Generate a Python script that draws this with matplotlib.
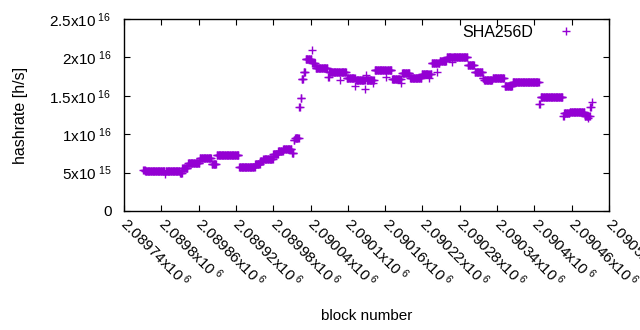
import numpy as np
import matplotlib
matplotlib.use('Agg')
import matplotlib.pyplot as plt

plt.rcParams['font.family'] = ['Liberation Sans', 'DejaVu Sans']
plt.rcParams['mathtext.fontset'] = 'custom'
plt.rcParams['mathtext.rm'] = 'Liberation Sans'
plt.rcParams['mathtext.it'] = 'Liberation Sans'

# hashrate per block, stored as runs: first block of each run and its value (x1e16 h/s)
run_start = [2089771, 2089774, 2089785, 2089806, 2089807, 2089830, 2089834, 2089843,
             2089862, 2089881, 2089889, 2089925, 2089951, 2089959, 2089964, 2089980,
             2089988, 2089996, 2090010, 2090013, 2090015, 2090022, 2090024, 2090026,
             2090029, 2090032, 2090042, 2090043, 2090048, 2090068, 2090070, 2090087,
             2090088, 2090098, 2090112, 2090113, 2090128, 2090129, 2090130, 2090140,
             2090141, 2090143, 2090161, 2090162, 2090171, 2090185, 2090186, 2090187,
             2090200, 2090219, 2090230, 2090231, 2090235, 2090243, 2090244, 2090248,
             2090259, 2090267, 2090268, 2090293, 2090304, 2090317, 2090319, 2090333,
             2090352, 2090365, 2090408, 2090410, 2090446, 2090448, 2090457, 2090481,
             2090486, 2090487, 2090490, 2090492]
run_value = [0.53, 0.527, 0.52, 0.48, 0.525, 0.495, 0.565, 0.62,
             0.69, 0.61, 0.73, 0.569, 0.612, 0.655, 0.673, 0.742,
             0.781, 0.807, 0.755, 0.924, 0.95, 1.35, 1.47, 1.72,
             1.81, 1.98, 2.1, 1.93, 1.86, 1.745, 1.81, 1.70,
             1.81, 1.735, 1.628, 1.70, 1.585, 1.77, 1.70, 1.67,
             1.70, 1.83, 1.745, 1.83, 1.72, 1.67, 1.72, 1.80,
             1.73, 1.78, 1.73, 1.78, 1.93, 1.81, 1.93, 1.957,
             2.0, 1.94, 2.01, 1.90, 1.806, 1.73, 1.70, 1.73,
             1.63, 1.677, 1.39, 1.48, 1.24, 1.28, 1.29, 1.24,
             1.21, 1.24, 1.35, 1.42]
last_block = 2090492

x_ticks = [2089740 + 60 * k for k in range(14)]
x_labels = ['2.08974', '2.0898', '2.08986', '2.08992', '2.08998', '2.09004', '2.0901',
            '2.09016', '2.09022', '2.09028', '2.09034', '2.0904', '2.09046', '2.0905']
y_ticks = [0, 5e15, 1e16, 1.5e16, 2e16, 2.5e16]
y_labels = ['0', '5x10$^{\\ 15}$', '1x10$^{\\ 16}$', '1.5x10$^{\\ 16}$',
            '2x10$^{\\ 16}$', '2.5x10$^{\\ 16}$']

blocks = []
rates = []
ends = run_start[1:] + [last_block + 1]
for s, e, v in zip(run_start, ends, run_value):
    for b in range(s, e):
        blocks.append(b)
        rates.append(v * 1e16)

fig = plt.figure(figsize=(6.4, 3.3), dpi=100)
ax = fig.add_axes([124 / 640, 1 - 211 / 330, 485 / 640, 192 / 330])
ax.plot(blocks, rates, '+', color='#9400D3', markersize=6, markeredgewidth=1.0,
        label='SHA256D')

ax.set_xlim(2089740, 2090520)
ax.set_ylim(0, 2.5e16)
ax.set_xticks(x_ticks)
ax.set_xticklabels([l + 'x10$^{\\ 6}$' for l in x_labels], rotation=-45,
                   ha='left', va='center', rotation_mode='anchor')
ax.set_yticks(y_ticks)
ax.set_yticklabels(y_labels)
ax.tick_params(direction='in', top=True, right=True, length=4, width=0.8,
               labelsize=11, colors='black')
ax.tick_params(axis='x', pad=7)
ax.tick_params(axis='y', pad=9)
for sp in ax.spines.values():
    sp.set_linewidth(1.0)

ax.set_xlabel('block number', fontsize=11, labelpad=13)
ax.set_ylabel('hashrate [h/s]', fontsize=11.5, labelpad=15)
ax.legend(loc='upper right', bbox_to_anchor=(1 - 27 / 485, 1 - 6 / 192),
          frameon=False, markerfirst=False, fontsize=11.5, borderpad=0,
          borderaxespad=0, handlelength=2, handletextpad=1.05)

fig.savefig('out.png', dpi=100)
